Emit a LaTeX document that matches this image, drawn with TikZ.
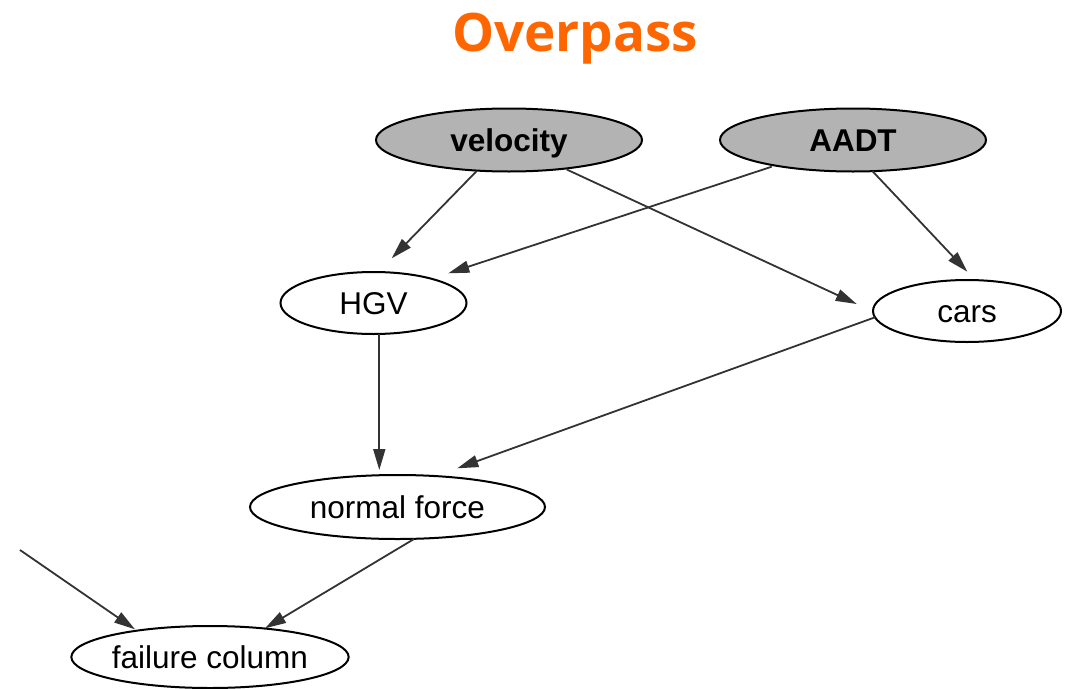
\documentclass[tikz,border=0pt]{standalone}
\usepackage{fontspec}
\setmainfont{Liberation Sans}
\newfontfamily\titlefont{Open Sans}
\usetikzlibrary{shapes.geometric,arrows.meta}
\definecolor{titleorange}{HTML}{FF6600}
\definecolor{edgegray}{HTML}{333333}
\definecolor{nodegray}{HTML}{B3B3B3}
\tikzset{
  var/.style={ellipse, draw=black, line width=2pt, fill=white, inner sep=0pt,
    text height=23pt, text depth=0pt, font=\fontsize{31.5}{31.5}\selectfont},
  obs/.style={var, fill=nodegray, font=\fontsize{31.5}{31.5}\selectfont\bfseries},
  link/.style={draw=edgegray, line width=1.8pt,
    -{Triangle[length=21pt,width=12pt]}},
  titletext/.style={font=\titlefont\fontsize{53}{53}\selectfont\bfseries, text=titleorange, inner sep=0pt}
}
\begin{document}
\begin{tikzpicture}[x=1pt,y=-1pt]
\useasboundingbox (0,0) rectangle (1068,688);
\node[titletext, anchor=base] (title) at (575,51) {Overpass};
\node[obs, minimum width=266pt, minimum height=63pt] (velocity) at (509,140) {velocity};
\node[obs, minimum width=266pt, minimum height=63pt] (aadt) at (853,140) {AADT};
\node[var, minimum width=186pt, minimum height=62pt] (hgv) at (373.5,303) {HGV};
\node[var, minimum width=188pt, minimum height=62pt] (cars) at (967,311) {cars};
\node[var, minimum width=295pt, minimum height=64pt] (normal) at (397.5,507) {normal force};
\node[var, minimum width=276pt, minimum height=62pt] (failure) at (210,657) {failure column};
\coordinate (ext) at (20,550);
\draw[link] ([shift={(-32.3,31)}]velocity.center) -- ([shift={(18.2,-44.7)}]hgv.center);
\draw[link] ([shift={(57.7,29.5)}]velocity.center) -- ([shift={(-110.3,-7)}]cars.center);
\draw[link] ([shift={(-81.3,26.7)}]aadt.center) -- ([shift={(74.8,-29.7)}]hgv.center);
\draw[link] ([shift={(19.3,31)}]aadt.center) -- ([shift={(0.3,-39.3)}]cars.center);
\draw[link] ([shift={(5.8,31)}]hgv.center) -- ([shift={(-18.2,-37)}]normal.center);
\draw[link] ([shift={(-92,6.3)}]cars.center) -- ([shift={(59.8,-38.7)}]normal.center);
\draw[link] ([shift={(16.5,32)}]normal.center) -- ([shift={(55,-28.7)}]failure.center);
\draw[link] (ext) -- ([shift={(-75,-27.7)}]failure.center);
\end{tikzpicture}
\end{document}
